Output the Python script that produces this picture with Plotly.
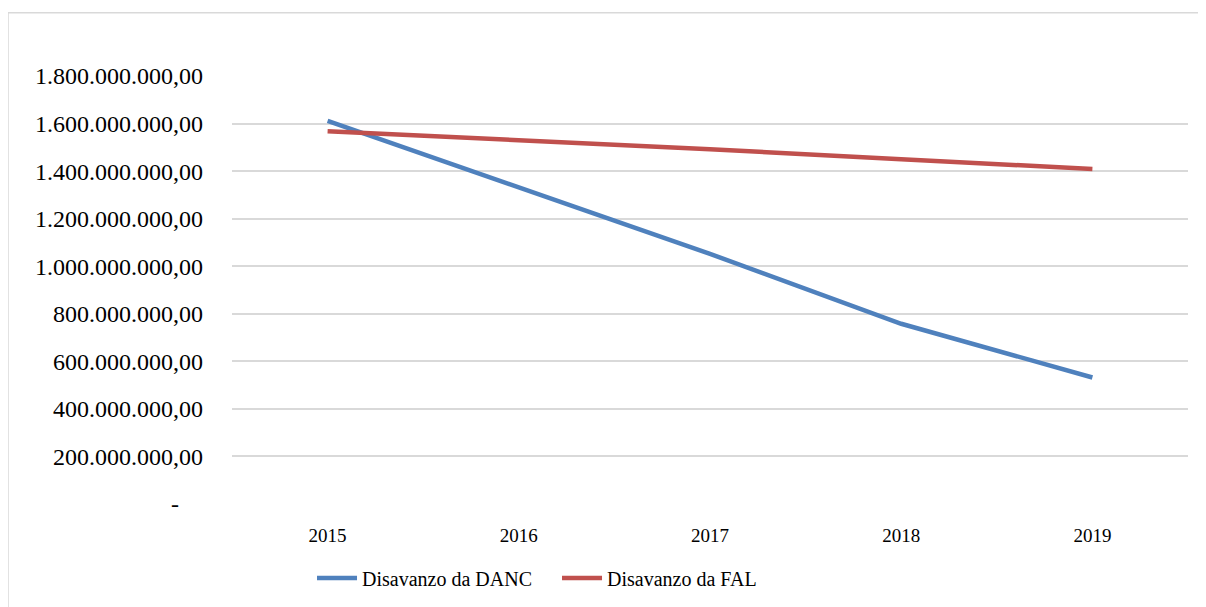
import plotly.graph_objects as go

years = ["2015", "2016", "2017", "2018", "2019"]
danc = [1.611e9, 1.330e9, 1.052e9, 0.758e9, 0.532e9]
fal = [1.568e9, 1.531e9, 1.492e9, 1.450e9, 1.409e9]

y_tickvals = [0, 2e8, 4e8, 6e8, 8e8, 1e9, 1.2e9, 1.4e9, 1.6e9, 1.8e9]
y_ticktext = ["-\u00a0\u00a0\u00a0\u00a0", "200.000.000,00", "400.000.000,00", "600.000.000,00",
              "800.000.000,00", "1.000.000.000,00", "1.200.000.000,00", "1.400.000.000,00",
              "1.600.000.000,00", "1.800.000.000,00"]

fig = go.Figure()
fig.add_trace(go.Scatter(x=years, y=danc, mode="lines", name="Disavanzo da DANC",
                         line=dict(color="#4F81BD", width=4.5)))
fig.add_trace(go.Scatter(x=years, y=fal, mode="lines", name="Disavanzo da FAL",
                         line=dict(color="#C0504D", width=4.5)))

fig.update_layout(
    width=1190, height=599,
    margin=dict(l=224, r=10, t=68, b=103),
    paper_bgcolor="white", plot_bgcolor="white",
    font=dict(family="Liberation Serif", color="#000000", size=19),
    showlegend=True,
    legend=dict(orientation="h", x=0.0837, xanchor="left", y=-0.173, yanchor="middle",
                font=dict(family="Liberation Serif", size=20), entrywidth=190, entrywidthmode="pixels",
                itemwidth=40, tracegroupgap=0),
    xaxis=dict(type="category", range=[-0.5, 4.5], showgrid=False, showline=False,
               zeroline=False, ticks="", tickfont=dict(size=19), ticklabelstandoff=18),
    yaxis=dict(range=[0, 1.8e9], tickvals=y_tickvals, ticktext=y_ticktext,
               showgrid=True, gridcolor="#D9D9D9", gridwidth=1.5, zeroline=False,
               showline=False, ticks="", tickfont=dict(size=24), ticklabelstandoff=28),
    shapes=[dict(type="rect", xref="paper", yref="paper",
                 x0=-0.2343, x1=1.06, y0=-0.26, y1=1.148,
                 line=dict(color="#D9D9D9", width=1.5), fillcolor="rgba(0,0,0,0)", layer="below")],
)
fig.update_traces(cliponaxis=False)

fig.write_html("out.html")
